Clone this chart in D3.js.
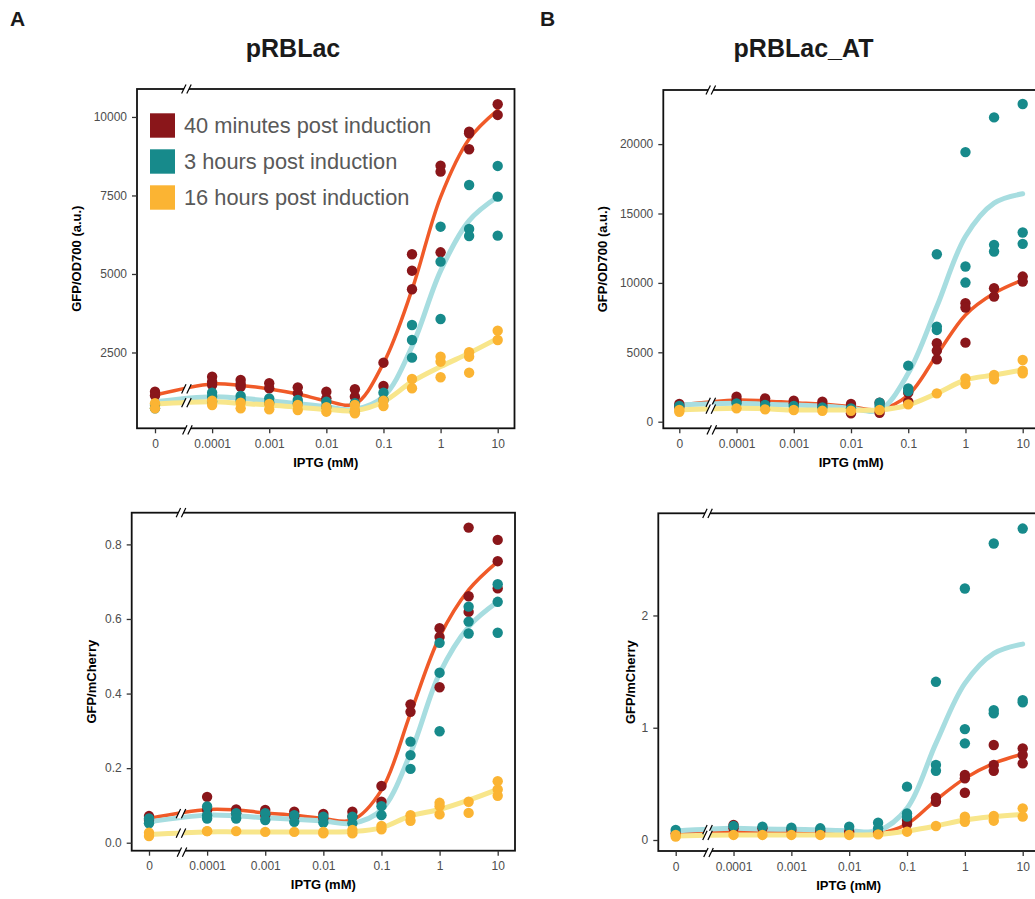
<!DOCTYPE html>
<html><head><meta charset="utf-8">
<script src="https://cdn.jsdelivr.net/npm/d3@7"></script>
<style>
body{margin:0;background:#fff}
svg{display:block}
text{font-family:"Liberation Sans", Arial, Helvetica, sans-serif}
</style>
</head><body>
<svg id="chart" width="1035" height="899"></svg>
<script>
// ---------------- data ----------------
const concentrations = [0, 1e-4, 3.16e-4, 1e-3, 3.16e-3, 0.01, 0.0316, 0.1, 0.316, 1, 3.16, 10];
const zeroPosition = 1e-5; // where "0" sits on the broken log axis
const xTickValues = [0, 1e-4, 1e-3, 0.01, 0.1, 1, 10];
const xTickLabels = ["0", "0.0001", "0.001", "0.01", "0.1", "1", "10"];
const seriesNames = ["40 minutes post induction", "3 hours post induction", "16 hours post induction"];
const panelTitles = ["pRBLac", "pRBLac_AT"];
const panelLetters = ["A", "B"];
const yTitles = ["GFP/OD700 (a.u.)", "GFP/mCherry"];
const xTitle = "IPTG (mM)";

const yTicksOdLac = [2500, 5000, 7500, 10000];
const yTicksChLac = [0, 0.2, 0.4, 0.6, 0.8];
const yTicksOdAT = [0, 5000, 10000, 15000, 20000];
const yTicksChAT = [0, 1, 2];

// pRBLac, GFP/OD700 replicates per concentration
const odLac40min = [[1250,1130],[1730,1570,1465],[1625,1500,1410],[1520,1360],[1390,1200],[1250,1040],[1330,1090],[2175,1433],[5627,5105,4513],[8449,8258,5690],[9532,9480,8971],[10404,10064]];
const odLac3h    = [[828,722],[1220,1092,933],[1115,987],[1040,900],[987,882],[933,774],[882,615],[1220,987],[3376,2898,2335],[6506,5392,3567],[7834,6433,6210],[8440,7462,6220]];
const odLac16h   = [[882,722],[965,828],[900,722],[860,690],[828,669],[755,615],[828,669,563],[965,796],[1656,1360],[2366,2207,1710],[2506,2366,1857],[3194,2898]];
const fitOdLac40min = [1146,1500,1450,1340,1180,960,860,2160,4500,7450,9300,10220];
const fitOdLac3h    = [933,1092,1040,960,870,774,690,1092,2690,5100,6700,7460];
const fitOdLac16h   = [860,933,880,828,755,690,650,933,1570,2050,2480,2950];

// pRBLac, GFP/mCherry
const chLac40min = [[0.0715,0.061],[0.123,0.088],[0.089,0.079],[0.088,0.074],[0.083,0.070],[0.077,0.065],[0.083,0.070],[0.152,0.110],[0.371,0.351],[0.575,0.552,0.417],[0.845,0.661,0.619],[0.812,0.755,0.682]];
const chLac3h    = [[0.065,0.052],[0.097,0.074,0.065],[0.079,0.065],[0.079,0.061],[0.074,0.056],[0.070,0.054],[0.070,0.052],[0.098,0.074],[0.271,0.235,0.198],[0.536,0.456,0.299],[0.633,0.593,0.561],[0.693,0.646,0.563]];
const chLac16h   = [[0.027,0.018],[0.031,0.031],[0.031],[0.029],[0.029],[0.029,0.025],[0.034,0.025],[0.045,0.036],[0.074,0.059],[0.107,0.098,0.076],[0.110,0.080],[0.165,0.143,0.126]];
const fitChLac40min = [0.065,0.089,0.088,0.080,0.074,0.065,0.061,0.141,0.347,0.552,0.678,0.754];
const fitChLac3h    = [0.056,0.074,0.072,0.067,0.063,0.058,0.052,0.088,0.240,0.454,0.579,0.646];
const fitChLac16h   = [0.022,0.029,0.029,0.029,0.029,0.029,0.030,0.040,0.072,0.089,0.114,0.143];

// pRBLac_AT, GFP/OD700
const odAT40min = [[1274,1082],[1803,1514],[1683,1442],[1514,1322],[1442,1202],[1274,601],[1370,649],[2091,1442],[5649,5120,4495],[8534,8222,5697],[9616,9015],[10457,10096]];
const odAT3h    = [[1130],[1322],[1202],[1130],[1034],[962],[1370,1130],[4039,2404,2212],[12068,6851,6611],[19424,11179,10025],[21924,12741,12260],[22886,13631,12813]];
const odAT16h   = [[841,721],[962],[889],[841],[793],[793],[841],[1250],[2043],[3125,2716],[3366,3053],[4447,3678,3486]];
const fitOdAT40min = [1202,1563,1500,1370,1274,1082,889,1923,4808,7693,9255,10217];
const fitOdAT3h    = [1202,1322,1260,1202,1130,962,841,3486,8294,13342,15746,16419];
const fitOdAT16h   = [841,962,930,841,841,841,841,1202,2043,3005,3366,3726];

// pRBLac_AT, GFP/mCherry
const chAT40min = [[0.059],[0.134,0.104],[0.104],[0.089],[0.080],[0.074],[0.065],[0.178,0.142],[0.377,0.341],[0.579,0.549,0.421],[0.846,0.668,0.617],[0.816,0.757,0.683]];
const chAT3h    = [[0.089],[0.125],[0.119],[0.110],[0.104],[0.119],[0.154,0.104],[0.475,0.237,0.208],[1.409,0.668,0.617],[2.240,0.988,0.861],[2.641,1.157,1.128],[2.774,1.246,1.226]];
const chAT16h   = [[0.045,0.030],[0.045],[0.045],[0.045],[0.045],[0.045],[0.050],[0.074],[0.125],[0.208,0.163],[0.214,0.172],[0.282,0.208]];
const fitChAT40min = [0.059,0.074,0.072,0.070,0.068,0.066,0.059,0.142,0.356,0.549,0.683,0.766];
const fitChAT3h    = [0.080,0.104,0.098,0.095,0.089,0.083,0.083,0.282,0.861,1.395,1.662,1.745];
const fitChAT16h   = [0.036,0.045,0.045,0.045,0.045,0.045,0.050,0.080,0.125,0.178,0.208,0.228];

// ---------------- style ----------------
const pointColors = ["#8A161A", "#178A8B", "#FBB433"];
const lineColors  = ["#F05A28", "#A7DDE0", "#F8E68B"];
const lineWidths  = [3.5, 5, 5];

const panels = [
  {left:137,   top:89,    right:514.5, bottom:428.3, x0:155,   x10:497.7, yDomain:[86, 10890],     ticks:yTicksOdLac, fmt:d3.format("d"),  yTitleX:76.7,
   title:0, yTitle:0, pts:[odLac40min, odLac3h, odLac16h], fits:[fitOdLac40min, fitOdLac3h, fitOdLac16h], legend:true},
  {left:131.7, top:512.7, right:515,   bottom:850.7, x0:149,   x10:497.7, yDomain:[-0.0214, 0.885], ticks:yTicksChLac, fmt:d3.format(".1f"), yTitleX:91.7,
   yTitle:1, pts:[chLac40min, chLac3h, chLac16h], fits:[fitChLac40min, fitChLac3h, fitChLac16h]},
  {left:663.3, top:90,    right:1039,  bottom:428.3, x0:679.3, x10:1022.7, yDomain:[-475, 23898],  ticks:yTicksOdAT, fmt:d3.format("d"),  yTitleX:602.7,
   title:1, yTitle:0, pts:[odAT40min, odAT3h, odAT16h], fits:[fitOdAT40min, fitOdAT3h, fitOdAT16h]},
  {left:658.3, top:513.3, right:1039,  bottom:851,   x0:675.7, x10:1022.7, yDomain:[-0.098, 2.91],  ticks:yTicksChAT, fmt:d3.format("d"),  yTitleX:630,
   yTitle:1, pts:[chAT40min, chAT3h, chAT16h], fits:[fitChAT40min, fitChAT3h, fitChAT16h]}
];

const svg = d3.select("#chart");
svg.append("rect").attr("width",1035).attr("height",899).attr("fill","#fff");

function breakMark(g, cx, cy) {
  const dx = 2.2, dy = 4.6, s = 2.6;
  g.append("polygon")
    .attr("points", [[cx-s-dx,cy+dy],[cx-s+dx,cy-dy],[cx+s+dx,cy-dy],[cx+s-dx,cy+dy]].map(p=>p.join(",")).join(" "))
    .attr("fill","#fff");
  [-s, s].forEach(o => {
    g.append("line").attr("x1",cx+o-dx).attr("y1",cy+dy).attr("x2",cx+o+dx).attr("y2",cy-dy)
      .attr("stroke","#000").attr("stroke-width",1.2);
  });
}

panels.forEach(p => {
  const g = svg.append("g");
  const x = d3.scaleLog().domain([zeroPosition, 10]).range([p.x0, p.x10]);
  const xp = c => x(c === 0 ? zeroPosition : c);
  const y = d3.scaleLinear().domain(p.yDomain).range([p.bottom, p.top]);

  // fitted curves
  const line = d3.line().x((d,i)=>xp(concentrations[i])).y(d=>y(d)).curve(d3.curveCatmullRom.alpha(0.5));
  p.fits.forEach((f, k) => {
    g.append("path").attr("d", line(f)).attr("fill","none")
      .attr("stroke", lineColors[k]).attr("stroke-width", lineWidths[k]).attr("stroke-linecap","round");
  });

  // points
  p.pts.forEach((series, k) => {
    const flat = [];
    series.forEach((vals, i) => vals.forEach(v => flat.push({c: concentrations[i], v})));
    g.selectAll(null).data(flat).enter().append("circle")
      .attr("cx", d => xp(d.c)).attr("cy", d => y(d.v)).attr("r", 5.2)
      .attr("fill", pointColors[k]);
  });

  // frame
  g.append("rect").attr("x",p.left).attr("y",p.top).attr("width",p.right-p.left).attr("height",p.bottom-p.top)
    .attr("fill","none").attr("stroke","#111").attr("stroke-width",1.8);

  // axes
  const xAxis = d3.axisBottom(x).tickValues(xTickValues.map(v => v === 0 ? zeroPosition : v))
    .tickFormat((d,i) => xTickLabels[i]).tickSize(5).tickPadding(6).tickSizeOuter(0);
  const xa = g.append("g").attr("transform",`translate(0,${p.bottom})`).call(xAxis);
  const yAxis = d3.axisLeft(y).tickValues(p.ticks).tickFormat(p.fmt).tickSize(5).tickPadding(5).tickSizeOuter(0);
  const ya = g.append("g").attr("transform",`translate(${p.left},0)`).call(yAxis);
  [xa, ya].forEach(a => {
    a.select(".domain").remove();
    a.selectAll(".tick line").attr("stroke","#333").attr("stroke-width",1.3);
    a.selectAll(".tick text").attr("fill","#4D4D4D").style("font-size","12px");
  });

  // axis breaks
  const bx = p.x0 + 0.55 * (x(1e-4) - p.x0);
  breakMark(g, bx, p.top);
  breakMark(g, bx + 1, p.bottom + 1.5);
  const yb = k => p.fits[k][0] + 0.55 * (p.fits[k][1] - p.fits[k][0]);
  const ybs = [0,1,2].map(yb);
  breakMark(g, bx, y(d3.max(ybs)));
  breakMark(g, bx, y(d3.min(ybs)));

  // axis titles
  g.append("text").attr("x", (p.left + p.right) / 2).attr("y", p.bottom + 34).attr("dy","0.35em")
    .attr("text-anchor","middle").style("font-size","13px").style("font-weight","bold").attr("fill","#000").text(xTitle);
  g.append("text").attr("transform",`translate(${p.yTitleX},${(p.top+p.bottom)/2}) rotate(-90)`).attr("dy","0.35em")
    .attr("text-anchor","middle").style("font-size","13px").style("font-weight","bold").attr("fill","#000").text(yTitles[p.yTitle]);

  // legend
  if (p.legend) {
    seriesNames.forEach((name, k) => {
      const ly = 113.3 + k * 36;
      g.append("rect").attr("x",150).attr("y",ly).attr("width",25).attr("height",24.4).attr("fill",pointColors[k]);
      g.append("text").attr("x",184).attr("y",ly+12.2).attr("dy","0.35em").style("font-size","21.8px")
        .attr("fill","#595959").text(name);
    });
  }
});

// panel titles and letters
const titleX = [293, 803.5];
panelTitles.forEach((t, i) => {
  svg.append("text").attr("x", titleX[i]).attr("y", 57).attr("text-anchor","middle")
    .style("font-size","25px").style("font-weight","bold").attr("fill","#1A1A1A").text(t);
});
const letterX = [10, 540];
panelLetters.forEach((t, i) => {
  svg.append("text").attr("x", letterX[i]).attr("y", 26)
    .style("font-size","21px").style("font-weight","bold").attr("fill","#1A1A1A").text(t);
});
</script>
</body></html>
